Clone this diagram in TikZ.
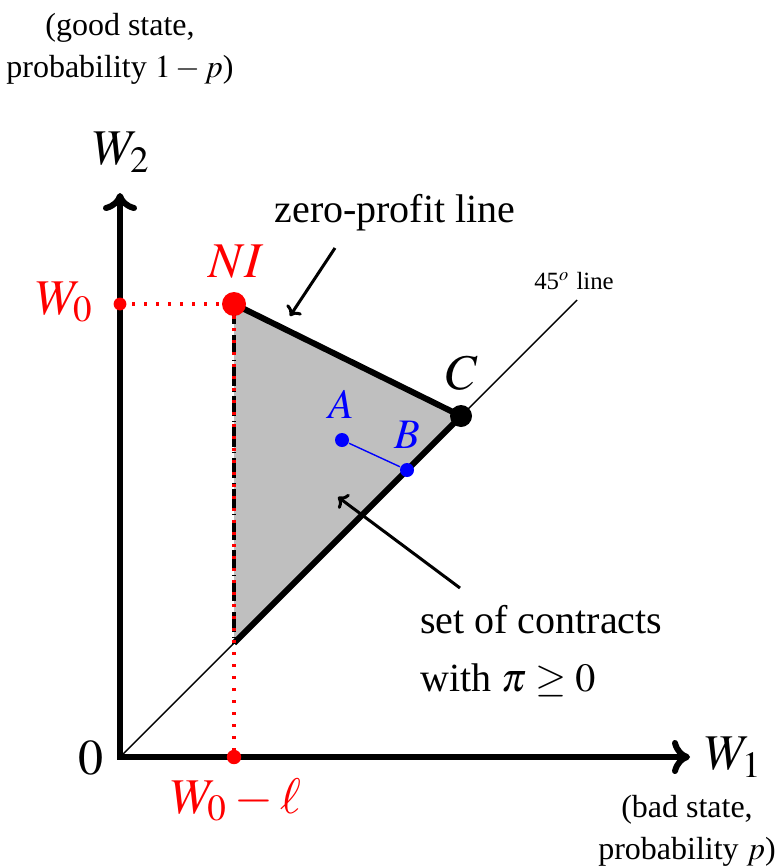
\documentclass[tikz,border=0pt]{standalone}
\usepackage{mathptmx}
\usepackage{fontspec}
\setmainfont{Liberation Serif}
\usetikzlibrary{arrows.meta}

\begin{document}
\begin{tikzpicture}[
  x=0.25pt,y=-0.25pt,
  lbl/.style={font=\fontsize{12.5}{15}\selectfont},
  note/.style={font=\fontsize{10}{12}\selectfont,anchor=west},
  small/.style={font=\fontsize{8}{10.5}\selectfont,align=center},
  tiny45/.style={font=\fontsize{6.2}{7}\selectfont},
  dot/.style={circle,fill,inner sep=0pt,minimum size=#1},
  dot/.default=3pt,
  axis/.style={line width=1.5pt,line join=miter,{To[length=4.5pt,width=8.5pt]}-{To[length=4.5pt,width=8.5pt]}},
  heavy/.style={line width=1.5pt},
  pointer/.style={line width=0.75pt,-{To[length=2.2pt,width=4.5pt]}},
  reddots/.style={red,line width=0.9pt,dash pattern=on 0.8pt off 2.2pt}
]
\useasboundingbox (0,0) rectangle (777,867);
% key points
\coordinate (O) at (120,757);
\coordinate (ytop) at (120,193);
\coordinate (xend) at (690,757);
\coordinate (NI) at (234,304);
\coordinate (C) at (461,416);
\coordinate (low) at (234,643);
\coordinate (Wl) at (234,757);
\coordinate (W0) at (120,304);
\coordinate (A) at (342,440);
\coordinate (B) at (407,470);
\coordinate (ff) at (577,300);
% contracts with pi >= 0
\fill[gray!50] (NI) -- (C) -- (low) -- cycle;
\draw[line width=0.35pt] (O) -- (ff);
\draw[heavy] (low) -- (C);
\draw[heavy] (NI) -- (C);
\draw[axis] (ytop) -- (O) -- (xend);
\draw[line width=1pt,dash pattern=on 5pt off 1.2pt on 0.3pt off 1.2pt] (NI) -- (low);
\draw[reddots] (NI) -- (Wl);
\draw[reddots] (W0) -- (NI);
% dots
\node[dot=6pt,red] (ni) at (NI) {};
\node[dot=5.5pt] (c) at (C) {};
\node[dot=3.2pt,red] (w0) at (W0) {};
\node[dot=3.6pt,red] (wl) at (Wl) {};
\node[dot=3.5pt,blue] (a) at (A) {};
\node[dot=3.5pt,blue] (b) at (B) {};
\draw[blue,line width=0.35pt] (a) -- (b);
% labels
\node[lbl,red] (nilbl) at (236,262) {$NI$};
\node[lbl,red] (w0lbl) at (65,302) {$W_0$};
\node[lbl,red] (wllbl) at (236,800) {$W_0-\ell$};
\node[lbl] (w2lbl) at (122,152) {$W_2$};
\node[lbl] (w1lbl) at (734,757) {$W_1$};
\node[lbl] (zero) at (91,758) {$0$};
\node[lbl] (clbl) at (462,373) {$C$};
\node[lbl,blue,font=\fontsize{10.5}{12}\selectfont] (albl) at (341,404) {$A$};
\node[lbl,blue,font=\fontsize{10.5}{12}\selectfont] (blbl) at (407,435) {$B$};
\node[tiny45] (fflbl) at (574,281) {45$^o$ line};
\node[small] (good) at (120,49) {(good state,\\probability $1-p$)};
\node[small] (bad) at (687,831) {(bad state,\\probability $p$)};
% zero-profit line
\node[font=\fontsize{10}{12}\selectfont] (zp) at (395,213) {zero-profit line};
\coordinate (zptail) at (335,248);
\coordinate (zptip) at (290,316);
\draw[pointer] (zptail) -- (zptip);
% set of contracts
\node[note] (set) at (406,620) {set of contracts};
\node[note] (with) at (406,680) {with $\pi\geq0$};
\coordinate (settail) at (460,588);
\coordinate (settip) at (338,497);
\draw[pointer] (settail) -- (settip);
\end{tikzpicture}
\end{document}
